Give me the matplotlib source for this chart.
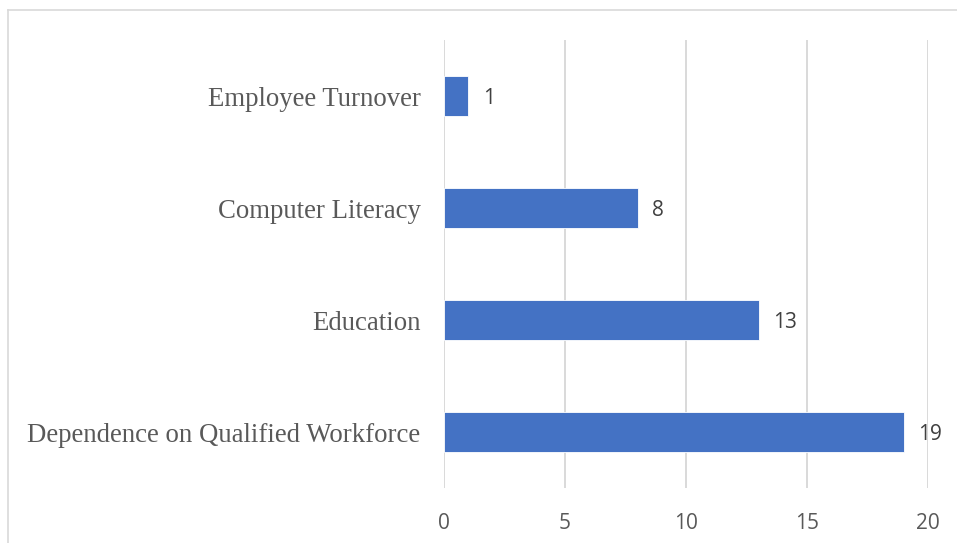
import matplotlib
matplotlib.use("Agg")
import matplotlib.pyplot as plt
from matplotlib.lines import Line2D

categories = ["Dependence on Qualified Workforce", "Education", "Computer Literacy", "Employee Turnover"]
values = [19, 13, 8, 1]
xticks = [0, 5, 10, 15, 20]

W, H = 957, 543
fig = plt.figure(figsize=(W / 100, H / 100), dpi=100)
ax = fig.add_axes([444 / W, 1 - 488 / H, (928 - 444) / W, (488 - 40) / H])

bar_color = "#4472C4"
grid_color = "#D9D9D9"
text_color = "#595959"

ypos = list(range(len(categories)))
ax.barh(ypos, values, height=0.36, color=bar_color, edgecolor="white", linewidth=0.6, zorder=3)

for y, v in zip(ypos, values):
    ax.annotate(str(v), xy=(v, y), xytext=(10.5, -2), textcoords="offset points",
                ha="left", va="center", fontsize=15, color="#404040",
                family="Open Sans")

ax.set_xlim(0, 20)
ax.set_ylim(-0.5, len(categories) - 0.5)
ax.set_xticks(xticks)
ax.set_xticklabels([str(t) for t in xticks], fontsize=15, color=text_color, family="Open Sans")
ax.set_yticks(ypos)
ax.set_yticklabels(categories, fontsize=19.3, color=text_color, family="Liberation Serif")
ax.tick_params(axis="both", length=0)
ax.tick_params(axis="x", pad=18)
ax.tick_params(axis="y", pad=17)

ax.xaxis.grid(True, color=grid_color, linewidth=1.4, zorder=0)
ax.yaxis.grid(False)
for s in ax.spines.values():
    s.set_visible(False)

# outer frame of the chart area
fig.add_artist(Line2D([8 / W, 8 / W], [0, 1 - 10 / H], color=grid_color, linewidth=1.2))
fig.add_artist(Line2D([8 / W, 1], [1 - 10 / H, 1 - 10 / H], color=grid_color, linewidth=1.2))

fig.savefig("out.png", dpi=100, facecolor="white")
